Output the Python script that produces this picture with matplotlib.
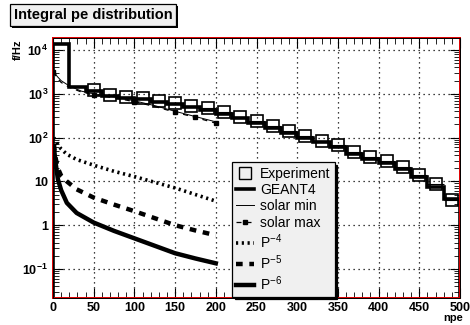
import numpy as np
import matplotlib
matplotlib.use("Agg")
import matplotlib.pyplot as plt
from matplotlib.lines import Line2D
from matplotlib import patheffects
from matplotlib.ticker import FixedLocator, FixedFormatter, MultipleLocator, LogLocator, NullFormatter

plt.rcParams['font.family'] = ['Liberation Sans', 'DejaVu Sans']
plt.rcParams['mathtext.fontset'] = 'custom'
plt.rcParams['mathtext.rm'] = 'Liberation Sans'
plt.rcParams['mathtext.bf'] = 'Liberation Sans:bold'
plt.rcParams['mathtext.default'] = 'regular'

# experiment (bin centres, 20 npe wide), log10(f/Hz)
exp_x = [50, 70, 90, 110, 130, 150, 170, 190, 210, 230, 250, 270,
         290, 310, 330, 350, 370, 390, 410, 430, 450, 470, 490]
exp_log = [3.09, 2.98, 2.93, 2.90, 2.84, 2.79, 2.73, 2.67, 2.59, 2.48, 2.38, 2.26,
           2.15, 2.04, 1.93, 1.83, 1.68, 1.56, 1.47, 1.34, 1.15, 0.94, 0.58]

# GEANT4 histogram, bin edges every 20 npe
g4_edges = np.arange(0, 520, 20)
g4_log = [4.14, 3.16, 3.06, 2.96, 2.91, 2.87, 2.81, 2.76, 2.70, 2.63, 2.55, 2.44, 2.33,
          2.22, 2.11, 2.00, 1.89, 1.78, 1.63, 1.52, 1.42, 1.29, 1.10, 0.88, 0.60]

# solar modulation curves
sol_x = [0, 5, 10, 20, 35, 50, 75, 100, 125, 150, 175, 200]
solmin_log = [3.55, 3.40, 3.30, 3.18, 3.06, 3.00, 2.93, 2.84, 2.73, 2.60, 2.48, 2.36]
solmax_log = [3.50, 3.36, 3.26, 3.15, 3.04, 2.98, 2.91, 2.82, 2.71, 2.58, 2.46, 2.33]

# power-law spectra
p_x = [1, 3, 6, 10, 17, 29, 50, 75, 100, 125, 150, 175, 200]
p4_log = [2.00, 1.93, 1.84, 1.74, 1.62, 1.50, 1.37, 1.23, 1.11, 0.98, 0.85, 0.70, 0.55]
p5_log = [1.85, 1.55, 1.30, 1.13, 1.00, 0.82, 0.63, 0.47, 0.32, 0.16, 0.00, -0.12, -0.23]
p6_log = [1.80, 1.45, 1.05, 0.80, 0.51, 0.28, 0.06, -0.13, -0.30, -0.47, -0.64, -0.76, -0.87]

ytick_vals = [1e-1, 1, 10, 1e2, 1e3, 1e4]
ytick_labels = ['10$^{-1}$', '1', '10', '10$^{2}$', '10$^{3}$', '10$^{4}$']

fig = plt.figure(figsize=(4.7, 3.25), dpi=100)
ax = fig.add_axes([53 / 470, 27 / 325, 407 / 470, 260 / 325])

p = lambda v: 10 ** np.asarray(v)

ax.stairs(p(g4_log), g4_edges, color='black', lw=2.6, label='GEANT4')
ax.errorbar(exp_x, p(exp_log), xerr=10, fmt='s', mfc='none', mec='black', mew=1.2,
            ms=8.5, ecolor='black', elinewidth=0.8, capsize=0, label='Experiment')
ax.plot(sol_x, p(solmin_log), color='black', lw=0.7, label='solar min')
ax.plot(sol_x, p(solmax_log), color='black', lw=0.9, ls=(0, (4, 4)),
        marker='s', ms=2.2, markevery=[0, 5, 7, 9, 10, 11], label='solar max')
ax.plot(p_x, p(p4_log), color='black', lw=2.6, ls=(0, (0.6, 1.0)), label='P$^{-4}$')
ax.plot(p_x, p(p5_log), color='black', lw=3.2, ls=(0, (1.5, 1.5)), label='P$^{-5}$')
ax.plot(p_x, p(p6_log), color='black', lw=3.2, label='P$^{-6}$')

ax.set_yscale('log')
ax.set_xlim(0, 500)
ax.set_ylim(10 ** -1.662, 10 ** 4.274)

ax.xaxis.set_major_locator(MultipleLocator(50))
ax.xaxis.set_minor_locator(MultipleLocator(10))
ax.yaxis.set_major_locator(FixedLocator(ytick_vals))
ax.yaxis.set_major_formatter(FixedFormatter(ytick_labels))
ax.yaxis.set_minor_locator(LogLocator(base=10, subs=np.arange(2, 10)))
ax.yaxis.set_minor_formatter(NullFormatter())
ax.tick_params(which='both', direction='in', top=True, right=True, color='black')
ax.tick_params(which='major', length=7, width=0.8, labelsize=9)
ax.tick_params(axis='x', which='major', pad=3)
ax.tick_params(which='minor', length=4, width=0.6)
for lab in ax.get_xticklabels() + ax.get_yticklabels():
    lab.set_fontweight('bold')

ax.grid(True, which='major', color='black', ls=(0, (1, 3)), lw=0.9)
for s in ax.spines.values():
    s.set_color('#e00000')
    s.set_linewidth(1.4)
# black frame line just inside the red one
ax.add_patch(plt.Rectangle((0, 0), 1, 1, transform=ax.transAxes, fill=False,
                           ec='black', lw=0.7, zorder=5, clip_on=False))

fig.text(463 / 470, 1 - 318 / 325, 'npe', ha='right', va='center',
         fontsize=8, fontweight='bold')
fig.text(18 / 470, 1 - 40 / 325, 'f/Hz', rotation=90, ha='center', va='top',
         fontsize=8, fontweight='bold')

t = fig.text(14 / 470, 1 - 15 / 325, 'Integral pe distribution', ha='left', va='center',
             fontsize=10.5, fontweight='bold',
             bbox=dict(boxstyle='square,pad=0.25', fc='#f0f0f0', ec='black', lw=0.9))
t.get_bbox_patch().set_path_effects([
    patheffects.withSimplePatchShadow(offset=(1.5, -1.5), shadow_rgbFace='black', alpha=1)])

h, l = ax.get_legend_handles_labels()
order = ['Experiment', 'GEANT4', 'solar min', 'solar max', 'P$^{-4}$', 'P$^{-5}$', 'P$^{-6}$']
hd = dict(zip(l, h))
hd['Experiment'] = Line2D([], [], ls='none', marker='s', mfc='none', mec='black', mew=1.0, ms=8)
leg = ax.legend([hd[k] for k in order], order, loc='lower left', bbox_to_anchor=(0.44, 0.005),
                fontsize=10, frameon=True, fancybox=False, edgecolor='black',
                facecolor='#f0f0f0', framealpha=1, handlelength=1.3, handletextpad=0.4,
                labelspacing=0.17, borderpad=0.3, borderaxespad=0,
                shadow={'facecolor': 'black', 'edgecolor': 'black', 'alpha': 1})
leg.get_frame().set_linewidth(0.9)
leg.set_zorder(6)

fig.savefig('out.png', dpi=100)
